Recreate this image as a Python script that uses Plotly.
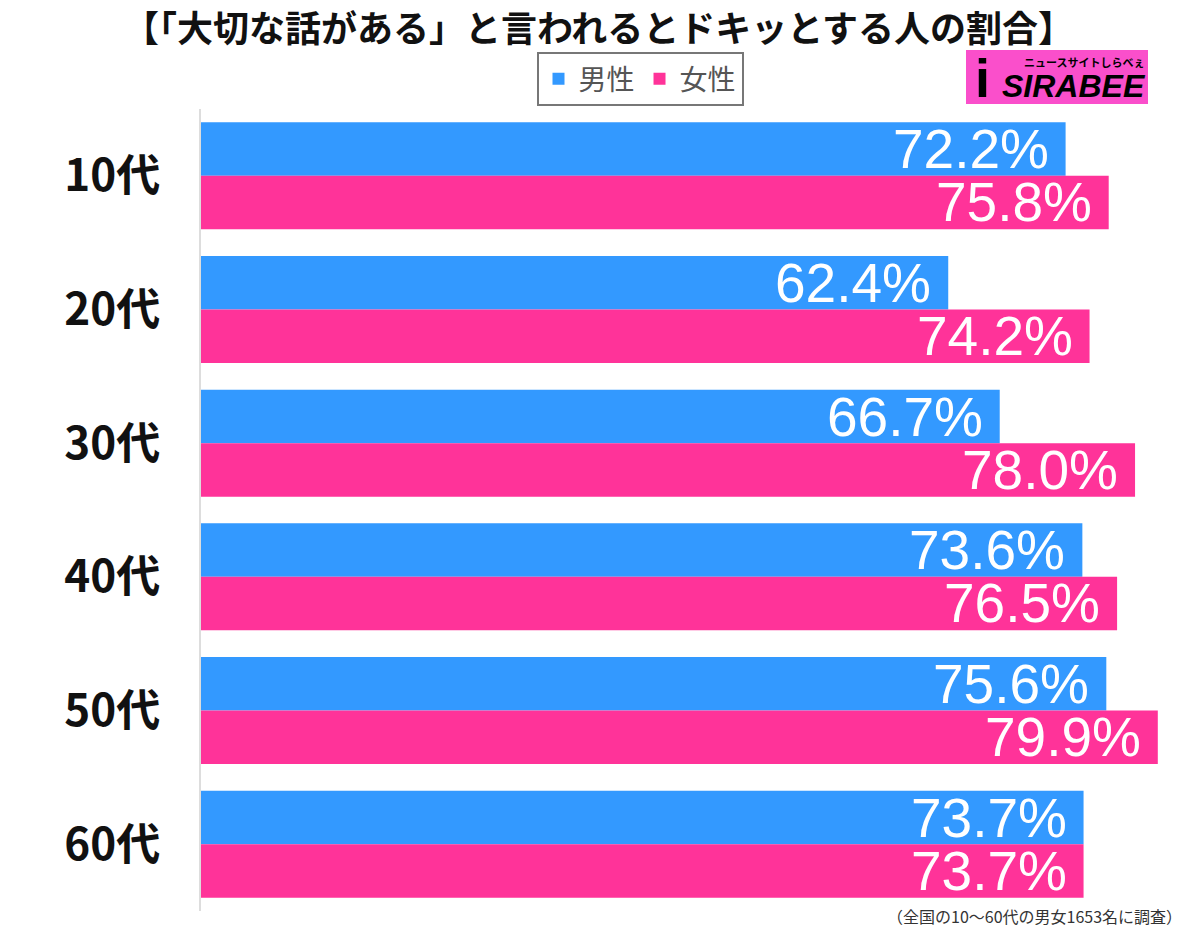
import plotly.graph_objects as go

ages = ["10代", "20代", "30代", "40代", "50代", "60代"]
male = [72.2, 62.4, 66.7, 73.6, 75.6, 73.7]
female = [75.8, 74.2, 78.0, 76.5, 79.9, 73.7]

BLUE = "#3399FF"
PINK = "#FF3399"

# page body has an 8px margin, so the figure is drawn 8px smaller and shifted
OFF = 8
W, H = 1200 - OFF, 927 - OFF
# plot area in screen pixels
L, R, T, B = 201, 1159, 109, 911


def px(x):
    return (x - L) / (R - L)


def py(y):
    return (B - y) / (B - T)


fig = go.Figure()
fig.add_trace(go.Bar(y=ages, x=male, name="男性", orientation="h",
                     marker=dict(color=BLUE, line=dict(width=0))))
fig.add_trace(go.Bar(y=ages, x=female, name="女性", orientation="h",
                     marker=dict(color=PINK, line=dict(width=0))))

lab_font = dict(family="Liberation Sans, Arial", size=55, color="white")
for a, m, f in zip(ages, male, female):
    fig.add_annotation(x=m, y=a, text=f"{m:.1f}%", showarrow=False, xanchor="right",
                       xshift=-15, yshift=26.5, font=lab_font)
    fig.add_annotation(x=f, y=a, text=f"{f:.1f}%", showarrow=False, xanchor="right",
                       xshift=-15, yshift=-26.5, font=lab_font)

# title
fig.add_annotation(xref="paper", yref="paper", x=px(598), y=py(26),
                   text="【「大切な話がある」と言われるとドキッとする人の割合】",
                   showarrow=False, xanchor="center", yanchor="middle",
                   font=dict(family="Noto Sans CJK JP", size=36, color="#111111", weight="bold"))

# footer
fig.add_annotation(xref="paper", yref="paper", x=px(1184), y=py(916),
                   text="（全国の10〜60代の男女1653名に調査）", showarrow=False,
                   xanchor="right", yanchor="middle",
                   font=dict(family="Noto Sans CJK JP", size=16, color="#333333"))

# logo
fig.add_shape(type="rect", xref="paper", yref="paper", x0=px(966), x1=px(1148),
              y0=py(104), y1=py(50), fillcolor="#FA4FCB", line=dict(width=0), layer="above")
fig.add_annotation(xref="paper", yref="paper", x=px(1000), y=py(86),
                   text="<i><b>SIRABEE</b></i>", showarrow=False, xanchor="left", yanchor="middle",
                   font=dict(family="Liberation Sans", size=32, color="black"))
fig.add_annotation(xref="paper", yref="paper", x=px(1146), y=py(62),
                   text="<b>ニュースサイトしらべぇ</b>", showarrow=False, xanchor="right",
                   yanchor="middle",
                   font=dict(family="Noto Sans CJK JP", size=11, color="black"))
fig.add_annotation(xref="paper", yref="paper", x=px(982), y=py(78),
                   text="<b>i</b>", showarrow=False, xanchor="center", yanchor="middle",
                   font=dict(family="Liberation Sans", size=54, color="black"))

fig.update_layout(
    width=W, height=H,
    margin=dict(l=L - OFF, r=1200 - R, t=T - OFF, b=927 - B, autoexpand=False),
    paper_bgcolor="white", plot_bgcolor="white",
    barmode="group", bargap=0.2, bargroupgap=0,
    showlegend=True,
    legend=dict(orientation="h", x=px(640), y=py(52), xanchor="center", yanchor="top",
                bordercolor="#777777", borderwidth=2,
                font=dict(family="Noto Sans CJK JP", size=28, color="#555555"),
                itemwidth=30, traceorder="normal"),
    xaxis=dict(range=[0, 80], showgrid=False, showticklabels=False, zeroline=False,
               showline=False, fixedrange=True),
    yaxis=dict(autorange="reversed", showgrid=False, showline=True, linecolor="#DDDDDD",
               linewidth=2, ticks="", ticklabelstandoff=30,
               tickfont=dict(family="Noto Sans CJK JP", size=44, color="#111111",
                             weight="bold"),
               fixedrange=True),
)

fig.write_html("out.html")
